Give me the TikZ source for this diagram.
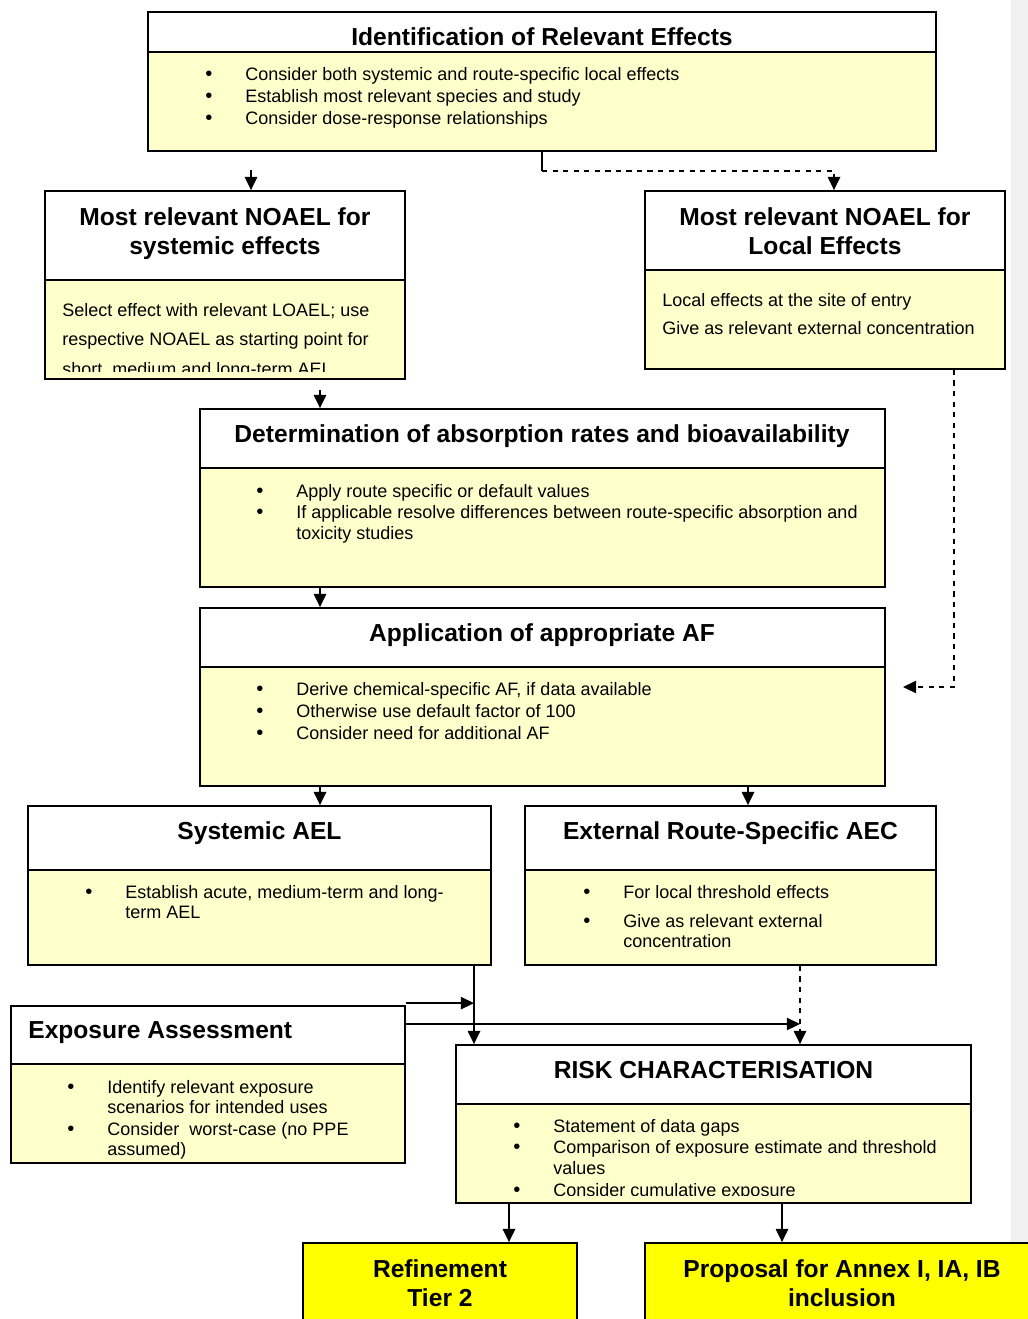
\documentclass[tikz,border=0pt]{standalone}
\usepackage{fontspec}
\setmainfont{Liberation Sans}
\usetikzlibrary{arrows.meta,fit}
\definecolor{paleyellow}{HTML}{FFFFCC}
\definecolor{brightyellow}{HTML}{FFFF00}
\definecolor{stripgray}{HTML}{F0F0F0}
\newcommand{\bl}{\makebox[0.8cm][l]{\fontsize{11.5}{0}\selectfont\textbullet}}
\newcommand{\ind}{\hspace*{0.8cm}}

\begin{document}
\begin{tikzpicture}[x=0.02cm, y=-0.02cm,
  hdr/.style={draw, fill=white, line width=1pt, inner sep=0pt},
  bodybox/.style={draw, fill=paleyellow, line width=1pt, inner sep=0pt},
  endbox/.style={draw, fill=brightyellow, line width=1pt, inner sep=0pt},
  ttl/.style={inner sep=0pt, font=\bfseries\fontsize{14}{16.5}\selectfont, align=center},
  txt/.style={inner sep=0pt, anchor=north west, align=left, font=\fontsize{10.25}{11.6}\selectfont},
  arr/.style={-{Triangle[width=7pt,length=7.5pt]}, line width=1pt}]
\useasboundingbox (0,0) rectangle (1028,1319);
\fill[stripgray] (1011,0) rectangle (1028,1319);

% boxes
\node[hdr, fit={(148,12) (936,52)}] (identH) {};
\node[bodybox, fit={(148,52) (936,151)}] (identB) {};
\node[hdr, fit={(45,191) (405,280)}] (sysH) {};
\node[bodybox, fit={(45,280) (405,379)}] (sysB) {};
\node[hdr, fit={(645,191) (1005,270)}] (locH) {};
\node[bodybox, fit={(645,270) (1005,369)}] (locB) {};
\node[hdr, fit={(200,409) (885,468)}] (detH) {};
\node[bodybox, fit={(200,468) (885,587)}] (detB) {};
\node[hdr, fit={(200,608) (885,667)}] (afH) {};
\node[bodybox, fit={(200,667) (885,786)}] (afB) {};
\node[hdr, fit={(28,806) (491,870)}] (sysaelH) {};
\node[bodybox, fit={(28,870) (491,965)}] (sysaelB) {};
\node[hdr, fit={(525,806) (936,870)}] (aecH) {};
\node[bodybox, fit={(525,870) (936,965)}] (aecB) {};
\node[hdr, fit={(11,1006) (405,1064)}] (expH) {};
\node[bodybox, fit={(11,1064) (405,1163)}] (expB) {};
\node[hdr, fit={(456,1045) (971,1104)}] (riskH) {};
\node[bodybox, fit={(456,1104) (971,1203)}] (riskB) {};
\node[endbox, fit={(303,1243) (577,1335)}] (refN) {};
\node[endbox, fit={(645,1243) (1040,1335)}] (propN) {};

% titles
\node[ttl, anchor=base] (identTtl) at (542,45.8) {Identification of Relevant Effects};
\node[ttl, anchor=north] (sysTtl) at (225,207.2) {Most relevant NOAEL for\\systemic effects};
\node[ttl, anchor=north] (locTtl) at (825,207.2) {Most relevant NOAEL for\\Local Effects};
\node[ttl, anchor=base] (detTtl) at (542,442.8) {Determination of absorption rates and bioavailability};
\node[ttl, anchor=base] (afTtl) at (542,641.8) {Application of appropriate AF};
\node[ttl, anchor=base] (sysaelTtl) at (259.5,839.8) {Systemic AEL};
\node[ttl, anchor=base] (aecTtl) at (730.5,839.8) {External Route-Specific AEC};
\node[ttl, anchor=base west] (expTtl) at (28,1038.8) {Exposure Assessment};
\node[ttl, anchor=base] (riskTtl) at (713.5,1078.8) {RISK CHARACTERISATION};
\node[ttl, anchor=north] (refTtl) at (440,1259.2) {Refinement\\Tier 2};
\node[ttl, anchor=north] (propTtl) at (842,1259.2) {Proposal for Annex I, IA, IB\\inclusion};

% body texts
\node[txt, font=\fontsize{10.25}{12.5}\selectfont] (identT) at (205,66.7)
  {\bl Consider both systemic and route-specific local effects\\
   \bl Establish most relevant species and study\\
   \bl Consider dose-response relationships};
\begin{scope}
\clip ([yshift=0.16cm]sysB.south west) rectangle (sysB.north east);
\node[txt, font=\fontsize{10.25}{17}\selectfont] (sysT) at (62,302.7)
  {Select effect with relevant LOAEL; use\\
   respective NOAEL as starting point for\\
   short, medium and long-term AEL};
\end{scope}
\node[txt, font=\fontsize{10.25}{16.4}\selectfont] (locT) at (662,292.7)
  {Local effects at the site of entry\\
   Give as relevant external concentration};
\node[txt] (detT) at (256,483.7)
  {\bl Apply route specific or default values\\[0.8pt]
   \bl If applicable resolve differences between route-specific absorption and\\
   \ind toxicity studies};
\node[txt, font=\fontsize{10.25}{12.5}\selectfont] (afT) at (256,681.7)
  {\bl Derive chemical-specific AF, if data available\\
   \bl Otherwise use default factor of 100\\
   \bl Consider need for additional AF};
\node[txt] (sysaelT) at (85,884.7)
  {\bl Establish acute, medium-term and long-\\
   \ind term AEL};
\node[txt] (aecT) at (583,884.7)
  {\bl For local threshold effects\\[5pt]
   \bl Give as relevant external\\
   \ind concentration};
\node[txt] (expT) at (67,1079.7)
  {\bl Identify relevant exposure\\
   \ind scenarios for intended uses\\[0.8pt]
   \bl Consider\ \ worst-case (no PPE\\
   \ind assumed)};
\begin{scope}
\clip ([yshift=0.16cm]riskB.south west) rectangle (riskB.north east);
\node[txt] (riskT) at (513,1118.7)
  {\bl Statement of data gaps\\[0.8pt]
   \bl Comparison of exposure estimate and threshold\\
   \ind values\\[0.8pt]
   \bl Consider cumulative exposure};
\end{scope}

% connectors
\coordinate (a1) at (251,170);
\coordinate (a2) at (320,390);
\coordinate (a3) at (903,687);
\coordinate (c320) at (320,0);
\coordinate (c474) at (474,0);
\coordinate (c509) at (509,0);
\coordinate (c748) at (748,0);
\coordinate (c782) at (782,0);
\coordinate (c800) at (800,0);
\coordinate (c954) at (954,0);

\draw[arr] (a1) -- (a1 |- sysH.north);
\draw[line width=1pt] (identB.south) -- ++(0,19) coordinate (d1);
\draw[arr, dashed] (d1) -| ([xshift=0.18cm]locH.north);
\draw[arr] (a2) -- (a2 |- detH.north);
\draw[arr] (detB.south -| c320) -- (afH.north -| c320);
\draw[arr, dashed] (locB.south -| c954) |- (a3);
\draw[arr] (afB.south -| c320) -- (sysaelH.north -| c320);
\draw[arr] (afB.south -| c748) -- (aecH.north -| c748);
\draw[arr] (sysaelB.south -| c474) -- (riskH.north -| c474);
\draw[arr] ([yshift=0.04cm]expH.north east) -- ([yshift=0.04cm]expH.north east -| c474);
\draw[arr] ([yshift=0.22cm]expH.east) -- ([yshift=0.22cm]expH.east -| c800);
\draw[arr, dashed] (aecB.south -| c800) -- (riskH.north -| c800);
\draw[arr] (riskB.south -| c509) -- (refN.north -| c509);
\draw[arr] (riskB.south -| c782) -- (propN.north -| c782);
\end{tikzpicture}
\end{document}
